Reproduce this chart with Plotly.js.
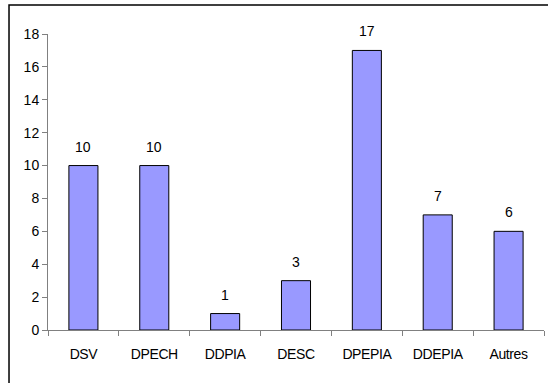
<!DOCTYPE html>
<html>
<head>
<meta charset="utf-8">
<script src="https://cdn.plot.ly/plotly-3.0.1.min.js"></script>
<style>
  html, body { margin: 0; padding: 0; background: #fff; }
  #chart { width: 548px; height: 383px; }
  /* slightly tighter category labels */
  #chart .xtick text { letter-spacing: -0.4px; }
</style>
</head>
<body>
<div id="chart"></div>
<script>
// Number of cases per service
var categories = ["DSV", "DPECH", "DDPIA", "DESC", "DPEPIA", "DDEPIA", "Autres"];
var counts = [10, 10, 1, 3, 17, 7, 6];
var yTicks = [0, 2, 4, 6, 8, 10, 12, 14, 16, 18];

var font = { family: "Liberation Sans, Arial, sans-serif", color: "#000" };

var trace = {
  type: "bar",
  x: categories,
  y: counts,
  marker: { color: "#9999FF", line: { color: "#000000", width: 1 } },
  hoverinfo: "none"
};

// value labels above each bar
var labels = categories.map(function (c, i) {
  return {
    x: c, y: counts[i], xref: "x", yref: "y",
    text: String(counts[i]), showarrow: false,
    yanchor: "bottom", yshift: 9,
    font: { family: font.family, size: 14, color: "#000" }
  };
});

var layout = {
  width: 548, height: 383,
  margin: { l: 48, r: 4, t: 34, b: 53 },
  paper_bgcolor: "#fff", plot_bgcolor: "#fff",
  showlegend: false,
  bargap: 0.59,
  font: font,
  xaxis: {
    type: "category",
    showline: true, linecolor: "#808080", linewidth: 1,
    ticks: "outside", tickson: "boundaries", ticklen: 5, tickcolor: "#808080",
    tickfont: { family: font.family, size: 14, color: "#000" },
    ticklabelstandoff: 11,
    showgrid: false, zeroline: false, fixedrange: true
  },
  yaxis: {
    range: [0, 18],
    tickvals: yTicks,
    showline: true, linecolor: "#808080", linewidth: 1,
    ticks: "outside", ticklen: 5, tickcolor: "#808080",
    tickfont: { family: font.family, size: 14, color: "#000" },
    showgrid: false, zeroline: false, fixedrange: true
  },
  annotations: labels,
  shapes: [{
    type: "rect", xref: "paper", yref: "paper",
    x0: -0.0786, x1: 1.2, y0: -0.3, y1: 1.098,
    line: { color: "#000", width: 1.5 }, fillcolor: "rgba(0,0,0,0)",
    layer: "below"
  }]
};

Plotly.newPlot("chart", [trace], layout, { displayModeBar: false, staticPlot: true });
</script>
</body>
</html>
